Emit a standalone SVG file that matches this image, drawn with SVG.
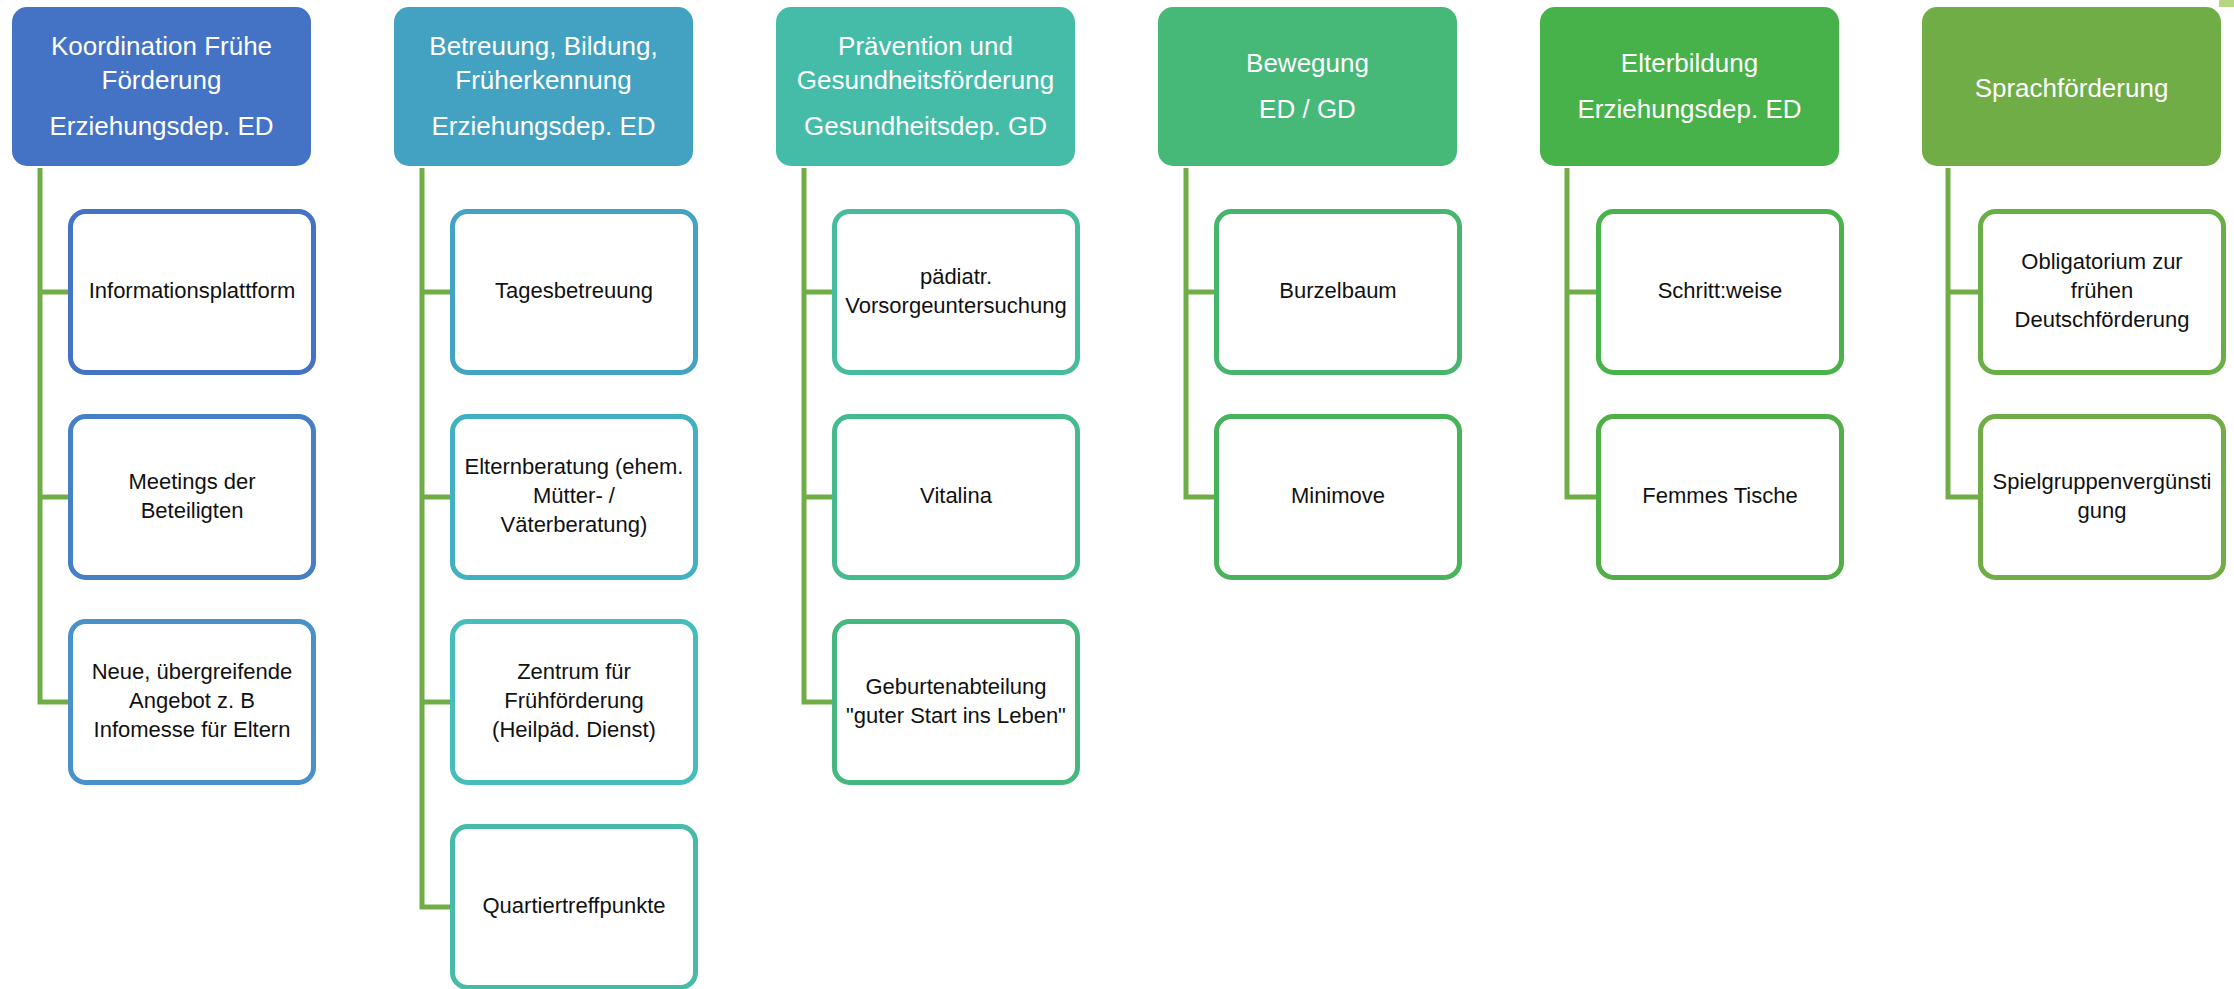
<svg xmlns="http://www.w3.org/2000/svg" width="2234" height="989" viewBox="0 0 2234 989">
<style>
.hd{stroke:none}
.ht{font-family:"Liberation Sans",Arial,sans-serif;font-size:26px;fill:#ffffff;text-anchor:middle}
.ch{fill:#ffffff;stroke-width:5}
.ct{font-family:"Liberation Sans",Arial,sans-serif;font-size:22px;fill:#111111;text-anchor:middle}
.cn{fill:none;stroke:#70AD47;stroke-width:5;stroke-linejoin:miter}
</style>
<rect width="2234" height="989" fill="#ffffff"/>
<rect x="2219" y="0" width="15" height="7" fill="#B5D57E"/>
<g id="connectors">
<path class="cn" d="M40,168 V702 H70 M40,292 H70 M40,497 H70"/>
<path class="cn" d="M422,168 V907 H452 M422,292 H452 M422,497 H452 M422,702 H452"/>
<path class="cn" d="M804,168 V702 H834 M804,292 H834 M804,497 H834"/>
<path class="cn" d="M1186,168 V497 H1216 M1186,292 H1216"/>
<path class="cn" d="M1567,168 V497 H1598 M1567,292 H1598"/>
<path class="cn" d="M1948,168 V497 H1980 M1948,292 H1980"/>
</g>
<g id="h1"><rect class="hd" x="12" y="7" width="299" height="159" rx="15" fill="#4472C4"/>
<text class="ht" x="161.5" y="55">Koordination Frühe</text><text class="ht" x="161.5" y="89">Förderung</text><text class="ht" x="161.5" y="135">Erziehungsdep. ED</text></g>
<g id="h2"><rect class="hd" x="394" y="7" width="299" height="159" rx="15" fill="#43A2C1"/>
<text class="ht" x="543.5" y="55">Betreuung, Bildung,</text><text class="ht" x="543.5" y="89">Früherkennung</text><text class="ht" x="543.5" y="135">Erziehungsdep. ED</text></g>
<g id="h3"><rect class="hd" x="776" y="7" width="299" height="159" rx="15" fill="#45BCA8"/>
<text class="ht" x="925.5" y="55">Prävention und</text><text class="ht" x="925.5" y="89">Gesundheitsförderung</text><text class="ht" x="925.5" y="135">Gesundheitsdep. GD</text></g>
<g id="h4"><rect class="hd" x="1158" y="7" width="299" height="159" rx="15" fill="#46B878"/>
<text class="ht" x="1307.5" y="72">Bewegung</text><text class="ht" x="1307.5" y="118">ED / GD</text></g>
<g id="h5"><rect class="hd" x="1540" y="7" width="299" height="159" rx="15" fill="#48B24A"/>
<text class="ht" x="1689.5" y="72">Elterbildung</text><text class="ht" x="1689.5" y="118">Erziehungsdep. ED</text></g>
<g id="h6"><rect class="hd" x="1922" y="7" width="299" height="159" rx="15" fill="#70AD47"/>
<text class="ht" x="2071.5" y="97">Sprachförderung</text></g>
<g id="c1a"><rect class="ch" x="70.5" y="211.5" width="243" height="161" rx="15" stroke="#4473C5"/>
<text class="ct" x="192" y="298">Informationsplattform</text></g>
<g id="c1b"><rect class="ch" x="70.5" y="416.5" width="243" height="161" rx="15" stroke="#4580C7"/>
<text class="ct" x="192" y="488.5">Meetings der</text><text class="ct" x="192" y="517.5">Beteiligten</text></g>
<g id="c1c"><rect class="ch" x="70.5" y="621.5" width="243" height="161" rx="15" stroke="#4A90C9"/>
<text class="ct" x="192" y="679">Neue, übergreifende</text><text class="ct" x="192" y="708">Angebot z. B</text><text class="ct" x="192" y="737">Infomesse für Eltern</text></g>
<g id="c2a"><rect class="ch" x="452.5" y="211.5" width="243" height="161" rx="15" stroke="#43A3C2"/>
<text class="ct" x="574" y="298">Tagesbetreuung</text></g>
<g id="c2b"><rect class="ch" x="452.5" y="416.5" width="243" height="161" rx="15" stroke="#41B1C2"/>
<text class="ct" x="574" y="474">Elternberatung (ehem.</text><text class="ct" x="574" y="503">Mütter- /</text><text class="ct" x="574" y="532">Väterberatung)</text></g>
<g id="c2c"><rect class="ch" x="452.5" y="621.5" width="243" height="161" rx="15" stroke="#44BDBB"/>
<text class="ct" x="574" y="679">Zentrum für</text><text class="ct" x="574" y="708">Frühförderung</text><text class="ct" x="574" y="737">(Heilpäd. Dienst)</text></g>
<g id="c2d"><rect class="ch" x="452.5" y="826.5" width="243" height="161" rx="15" stroke="#46BBA8"/>
<text class="ct" x="574" y="913">Quartiertreffpunkte</text></g>
<g id="c3a"><rect class="ch" x="834.5" y="211.5" width="243" height="161" rx="15" stroke="#45BC9E"/>
<text class="ct" x="956" y="283.5">pädiatr.</text><text class="ct" x="956" y="312.5">Vorsorgeuntersuchung</text></g>
<g id="c3b"><rect class="ch" x="834.5" y="416.5" width="243" height="161" rx="15" stroke="#45BA8F"/>
<text class="ct" x="956" y="503">Vitalina</text></g>
<g id="c3c"><rect class="ch" x="834.5" y="621.5" width="243" height="161" rx="15" stroke="#46B87F"/>
<text class="ct" x="956" y="693.5">Geburtenabteilung</text><text class="ct" x="956" y="722.5">"guter Start ins Leben"</text></g>
<g id="c4a"><rect class="ch" x="1216.5" y="211.5" width="243" height="161" rx="15" stroke="#47B56D"/>
<text class="ct" x="1338" y="298">Burzelbaum</text></g>
<g id="c4b"><rect class="ch" x="1216.5" y="416.5" width="243" height="161" rx="15" stroke="#48B35B"/>
<text class="ct" x="1338" y="503">Minimove</text></g>
<g id="c5a"><rect class="ch" x="1598.5" y="211.5" width="243" height="161" rx="15" stroke="#49B24B"/>
<text class="ct" x="1720" y="298">Schritt:weise</text></g>
<g id="c5b"><rect class="ch" x="1598.5" y="416.5" width="243" height="161" rx="15" stroke="#50B047"/>
<text class="ct" x="1720" y="503">Femmes Tische</text></g>
<g id="c6a"><rect class="ch" x="1980.5" y="211.5" width="243" height="161" rx="15" stroke="#6AAE47"/>
<text class="ct" x="2102" y="269">Obligatorium zur</text><text class="ct" x="2102" y="298">frühen</text><text class="ct" x="2102" y="327">Deutschförderung</text></g>
<g id="c6b"><rect class="ch" x="1980.5" y="416.5" width="243" height="161" rx="15" stroke="#70AD47"/>
<text class="ct" x="2102" y="488.5">Spielgruppenvergünsti</text><text class="ct" x="2102" y="517.5">gung</text></g>
</svg>
